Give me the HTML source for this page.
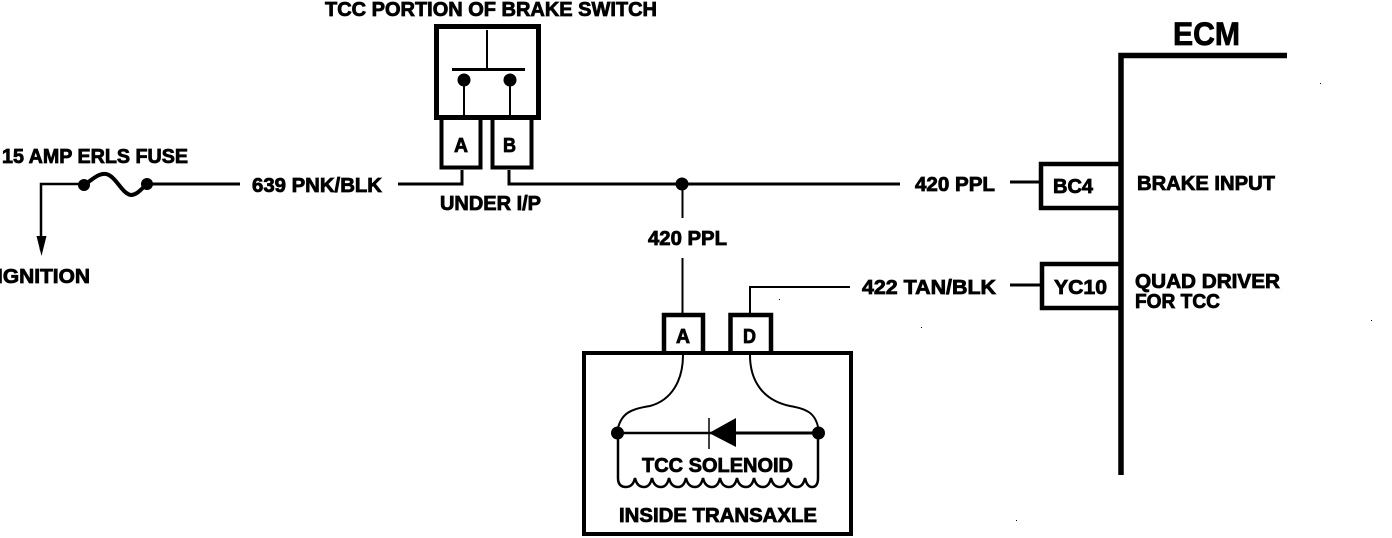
<!DOCTYPE html>
<html>
<head>
<meta charset="utf-8">
<style>
html,body{margin:0;padding:0;background:#fff;width:1392px;height:538px;overflow:hidden}
svg{display:block}
text{font-family:"Liberation Sans",sans-serif;font-weight:bold;font-size:20px;fill:#000;stroke:#000;stroke-width:.8}
.w{fill:none;stroke:#000;stroke-linecap:butt;stroke-linejoin:miter}
</style>
</head>
<body>
<svg width="1392" height="538" viewBox="0 0 1392 538" xmlns="http://www.w3.org/2000/svg">
<rect width="1392" height="538" fill="#fff"/>

<!-- Labels -->
<text x="325" y="16" textLength="332" lengthAdjust="spacingAndGlyphs">TCC PORTION OF BRAKE SWITCH</text>
<text x="2" y="163" textLength="186" lengthAdjust="spacingAndGlyphs">15 AMP ERLS FUSE</text>
<text x="252" y="192" textLength="130" lengthAdjust="spacingAndGlyphs">639 PNK/BLK</text>
<text x="440" y="210" textLength="101" lengthAdjust="spacingAndGlyphs">UNDER I/P</text>
<text x="-3" y="283" textLength="93" lengthAdjust="spacingAndGlyphs">IGNITION</text>
<text x="648" y="245" textLength="79" lengthAdjust="spacingAndGlyphs">420 PPL</text>
<text x="915" y="191" textLength="80" lengthAdjust="spacingAndGlyphs">420 PPL</text>
<text x="862" y="294" textLength="134" lengthAdjust="spacingAndGlyphs">422 TAN/BLK</text>
<text x="1053" y="193" textLength="40" lengthAdjust="spacingAndGlyphs">BC4</text>
<text x="1054" y="294" textLength="53" lengthAdjust="spacingAndGlyphs">YC10</text>
<text x="1137" y="190" textLength="138" lengthAdjust="spacingAndGlyphs">BRAKE INPUT</text>
<text x="1135" y="288" textLength="145" lengthAdjust="spacingAndGlyphs">QUAD DRIVER</text>
<text x="1135" y="308" textLength="85" lengthAdjust="spacingAndGlyphs">FOR TCC</text>
<text x="1173" y="45" textLength="67" lengthAdjust="spacingAndGlyphs" style="font-size:32px">ECM</text>
<text x="642" y="472" textLength="151" lengthAdjust="spacingAndGlyphs">TCC SOLENOID</text>
<text x="619" y="522" textLength="198" lengthAdjust="spacingAndGlyphs">INSIDE TRANSAXLE</text>
<text x="454" y="152" textLength="14" lengthAdjust="spacingAndGlyphs">A</text>
<text x="503" y="152" textLength="13" lengthAdjust="spacingAndGlyphs">B</text>
<text x="676" y="343" textLength="14" lengthAdjust="spacingAndGlyphs">A</text>
<text x="743" y="343" textLength="13" lengthAdjust="spacingAndGlyphs">D</text>

<!-- Brake switch -->
<rect x="436.500" y="26.500" width="102" height="91" class="w" stroke-width="5"/>
<path d="M487 30V69" class="w" stroke-width="2"/>
<path d="M452 69.500H525" class="w" stroke-width="3"/>
<circle cx="464" cy="80" r="6.500"/>
<circle cx="510" cy="80" r="6.500"/>
<path d="M464 84V115M510 84V115" class="w" stroke-width="2"/>
<path d="M441.500 118V167.500H480.500V118" class="w" stroke-width="4"/>
<path d="M492.500 118V167.500H531.500V118" class="w" stroke-width="4"/>

<!-- Fuse and ignition -->
<path d="M41 250V184H84" class="w" stroke-width="2.500"/>
<path d="M36.500 236L41.500 256L46.500 236Z"/>
<circle cx="84" cy="185" r="6"/>
<circle cx="147" cy="184" r="6"/>
<path d="M84 185C92 180 98 173 106 174C116 176 122 194 131 195C137 195 141 189 147 184" class="w" stroke-width="4"/>
<path d="M147 184H240" class="w" stroke-width="3"/>

<!-- Main wiring -->
<path d="M398 184H462V170" class="w" stroke-width="3"/>
<path d="M509 170V184H900" class="w" stroke-width="3"/>
<circle cx="682" cy="184" r="6.500"/>
<path d="M682.500 190V218M682.500 258V315" class="w" stroke-width="2"/>
<path d="M750 313V287H850" class="w" stroke-width="2"/>
<path d="M1010 182H1040M1010 285H1040" class="w" stroke-width="3"/>

<!-- ECM -->
<path d="M1121 475V55.500H1287" class="w" stroke-width="5.500"/>
<rect x="1041" y="164" width="80" height="44" class="w" stroke-width="4.500"/>
<rect x="1042" y="264" width="79" height="44" class="w" stroke-width="4.500"/>

<!-- Transaxle -->
<rect x="584" y="353" width="267" height="181" class="w" stroke-width="4"/>
<path d="M664 352V315H703V352" class="w" stroke-width="4.500"/>
<path d="M730.500 352V315H771V352" class="w" stroke-width="4.500"/>
<path d="M683 355C683 380 672 400 650 406C632 409 620 412 617 433" class="w" stroke-width="2"/>
<path d="M750 355C750 380 762 400 790 406C806 409 817 412 819 433" class="w" stroke-width="2"/>
<circle cx="617.500" cy="433" r="6.500"/>
<circle cx="818.500" cy="433" r="6.500"/>
<path d="M618 433H712" class="w" stroke-width="2.500"/>
<path d="M735 433H818" class="w" stroke-width="3"/>
<path d="M709 433L736 418V447Z"/>
<path d="M709 418V449" class="w" stroke-width="1.500"/>
<path d="M618 433V478Q618 487 626 487Q633 487 635 478Q637 487 644 487Q650 487 652 478Q654 487 661 487Q667 487 669 478Q671 487 678 487Q684 487 686 478Q688 487 695 487Q701 487 703 478Q705 487 712 487Q718 487 720 478Q722 487 729 487Q735 487 737 478Q739 487 746 487Q752 487 754 478Q756 487 763 487Q769 487 771 478Q773 487 780 487Q786 487 788 478Q790 487 797 487Q803 487 805 478Q807 487 812 487Q818 487 818 478V433" class="w" stroke-width="2.500"/>

<!-- Scan specks -->
<rect x="1320" y="83" width="1" height="1"/>
<rect x="921" y="327" width="1" height="1"/>
<rect x="1371" y="320" width="1" height="1"/>
<rect x="1016" y="520" width="1" height="1"/>
<rect x="779" y="299" width="1" height="1"/>
</svg>
</body>
</html>
